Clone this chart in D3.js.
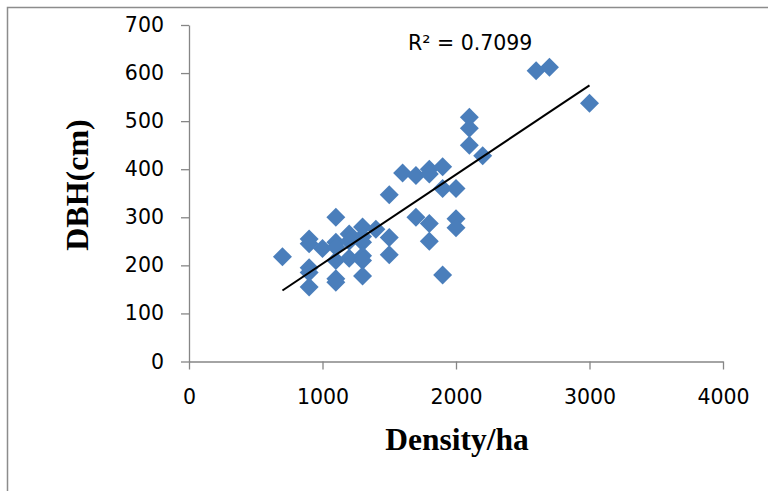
<!DOCTYPE html>
<meta charset="utf-8">
<head>
<style>
  body { margin: 0; background: #fff; }
  .tick text { font-family: "DejaVu Sans", sans-serif; font-size: 20.5px; fill: #000; }
  .axis path, .axis line { stroke: #868686; stroke-width: 1.3px; }
</style>
</head>
<body>
<script src="https://d3js.org/d3.v7.min.js"></script>
<script>

//Chart data
var density = [700,
  900, 900, 900, 900, 900,
  1000,
  1100, 1100, 1100, 1100, 1100, 1100,
  1200, 1200, 1200,
  1300, 1300, 1300, 1300, 1300, 1300,
  1400,
  1500, 1500, 1500,
  1600,
  1700, 1700,
  1800, 1800, 1800, 1800,
  1900, 1900, 1900,
  2000, 2000, 2000,
  2100, 2100, 2100,
  2200, 2600, 2700, 3000];
var dbh = [218,
  255, 245, 195, 185, 155,
  235,
  300, 248, 238, 210, 172, 165,
  265, 250, 215,
  280, 260, 248, 220, 210, 178,
  275,
  347, 258, 222,
  392,
  387, 300,
  400, 390, 287, 250,
  405, 360, 180,
  360, 297, 278,
  508, 485, 450,
  428, 605, 612, 537];
var xTicks = [0, 1000, 2000, 3000, 4000];
var yTicks = [0, 100, 200, 300, 400, 500, 600, 700];
var rLabel = "R\u00B2 = 0.7099";
var xTitle = "Density/ha";
var yTitle = "DBH(cm)";

var width = 768,
    height = 491;

var svg = d3.select("body").append("svg")
    .attr("width", width)
    .attr("height", height);

//outer chart border (runs off the right and bottom edges)
svg.append("rect")
    .attr("x", 7.5).attr("y", 7.5)
    .attr("width", 800).attr("height", 520)
    .attr("fill", "none")
    .attr("stroke", "#8c8c8c")
    .attr("stroke-width", 1.5);

var x = d3.scaleLinear().domain([0, 4000]).range([189, 723]);
var y = d3.scaleLinear().domain([0, 700]).range([361.5, 25]);

//axes
svg.append("g")
    .attr("class", "axis")
    .attr("transform", "translate(0," + y(0) + ")")
    .call(d3.axisBottom(x).tickValues(xTicks).tickFormat(d3.format("d"))
      .tickSize(8).tickPadding(20).tickSizeOuter(0));

svg.append("g")
    .attr("class", "axis")
    .attr("transform", "translate(" + x(0) + ",0)")
    .call(d3.axisLeft(y).tickValues(yTicks).tickFormat(d3.format("d"))
      .tickSize(8).tickPadding(17).tickSizeOuter(0));

//markers
var pts = density.map((d, i) => [d, dbh[i]]);
svg.append("g")
  .selectAll("path")
  .data(pts)
  .enter().append("path")
    .attr("d", d3.symbol().type(d3.symbolSquare).size(180))
    .attr("transform", d => "translate(" + x(d[0]) + "," + y(d[1]) + ") rotate(45)")
    .attr("fill", "#4a7ebb");

//linear trend line (least squares on the data)
var mx = d3.mean(density), my = d3.mean(dbh);
var sxy = d3.sum(pts, d => (d[0] - mx) * (d[1] - my));
var sxx = d3.sum(pts, d => (d[0] - mx) * (d[0] - mx));
var slope = sxy / sxx, icpt = my - slope * mx;
var xr = d3.extent(density);

svg.append("line")
    .attr("x1", x(xr[0])).attr("y1", y(slope * xr[0] + icpt))
    .attr("x2", x(xr[1])).attr("y2", y(slope * xr[1] + icpt))
    .attr("stroke", "#000")
    .attr("stroke-width", 2);

svg.append("text")
    .attr("x", 408).attr("y", 50)
    .style("font-family", "DejaVu Sans, sans-serif")
    .style("font-size", "20.5px")
    .text(rLabel);

//axis titles
svg.append("text")
    .attr("x", 457).attr("y", 450)
    .attr("text-anchor", "middle")
    .style("font-family", "Liberation Serif, serif")
    .style("font-weight", "bold")
    .style("font-size", "31.5px")
    .text(xTitle);

svg.append("text")
    .attr("transform", "translate(88,185) rotate(-90)")
    .attr("text-anchor", "middle")
    .style("font-family", "Liberation Serif, serif")
    .style("font-weight", "bold")
    .style("font-size", "32px")
    .text(yTitle);

</script>
</body>
